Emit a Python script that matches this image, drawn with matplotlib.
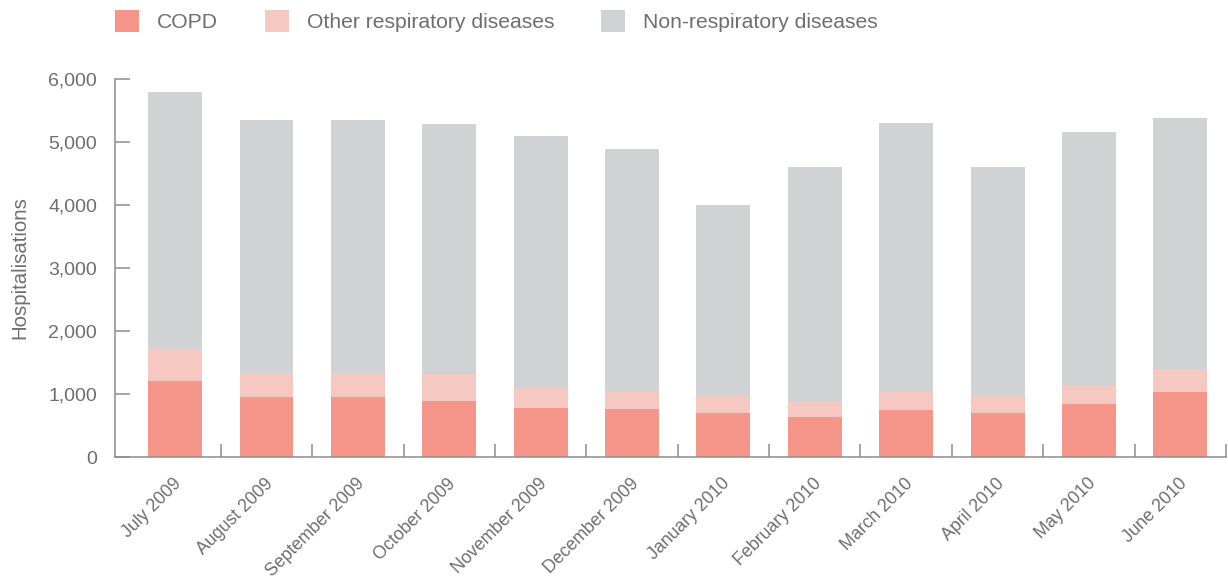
import matplotlib
matplotlib.use("Agg")
import matplotlib.pyplot as plt
import numpy as np

# Monthly hospitalisations, July 2009 - June 2010
months = ["July 2009", "August 2009", "September 2009", "October 2009",
          "November 2009", "December 2009", "January 2010", "February 2010",
          "March 2010", "April 2010", "May 2010", "June 2010"]
copd = [1210, 960, 960, 890, 780, 765, 700, 640, 750, 700, 845, 1035]
other_resp = [510, 375, 375, 435, 320, 285, 275, 240, 285, 285, 285, 365]
non_resp = [4080, 4015, 4015, 3965, 4000, 3840, 3025, 3720, 4265, 3615, 4030, 3980]
yticks = [0, 1000, 2000, 3000, 4000, 5000, 6000]

c_copd = "#F6968A"
c_other = "#F6C8C2"
c_non = "#D1D2D4"
text_col = "#6D6E71"
axis_col = "#8C8D8F"

plt.rcParams["font.family"] = ["Liberation Sans", "DejaVu Sans"]

fig = plt.figure(figsize=(12.28, 5.79), dpi=100)
ax = fig.add_axes([115 / 1228, 1 - 457 / 579, 1111 / 1228, 378 / 579])

x = np.arange(len(months))
copd_a = np.array(copd)
other_a = np.array(other_resp)
non_a = np.array(non_resp)
w = 0.59
ax.bar(x, copd_a, w, color=c_copd, label="COPD", linewidth=0)
ax.bar(x, other_a, w, bottom=copd_a, color=c_other,
       label="Other respiratory diseases", linewidth=0)
ax.bar(x, non_a, w, bottom=copd_a + other_a, color=c_non,
       label="Non-respiratory diseases", linewidth=0)

ax.set_xlim(-0.658, 11.5)
ax.set_ylim(0, 6000)

for s in ("top", "right"):
    ax.spines[s].set_visible(False)
for s in ("left", "bottom"):
    ax.spines[s].set_color(axis_col)
    ax.spines[s].set_linewidth(1.1)

ax.set_yticks(yticks)
ax.set_yticklabels([f"{v:,}" for v in yticks])
ax.tick_params(axis="y", direction="in", length=11, width=1.1, color=axis_col,
               labelsize=14, labelcolor=text_col, pad=13)

# month labels sit just left of each bar centre, below the axis
ax.set_xticks(x - 0.02)
ax.set_xticklabels(months, rotation=45, ha="right", rotation_mode="anchor")
ax.tick_params(axis="x", which="major", length=0, labelsize=12.8,
               labelcolor=text_col, pad=13)
ax.set_xticks(x + 0.5, minor=True)
ax.tick_params(axis="x", which="minor", direction="in", length=9.5, width=1.1,
               color=axis_col)

ax.set_ylabel("Hospitalisations", fontsize=14.7, color=text_col)
ax.yaxis.set_label_coords(-0.077, 0.5)

leg = ax.legend(loc="upper left", bbox_to_anchor=(115 / 1228, 1 - 10 / 579),
                bbox_transform=fig.transFigure, ncol=3, frameon=False,
                fontsize=15.2, handlelength=1.15, handleheight=1.2,
                handletextpad=0.85, columnspacing=2.2, borderpad=0,
                borderaxespad=0)
for t in leg.get_texts():
    t.set_color(text_col)

fig.savefig("out.png", dpi=100)
